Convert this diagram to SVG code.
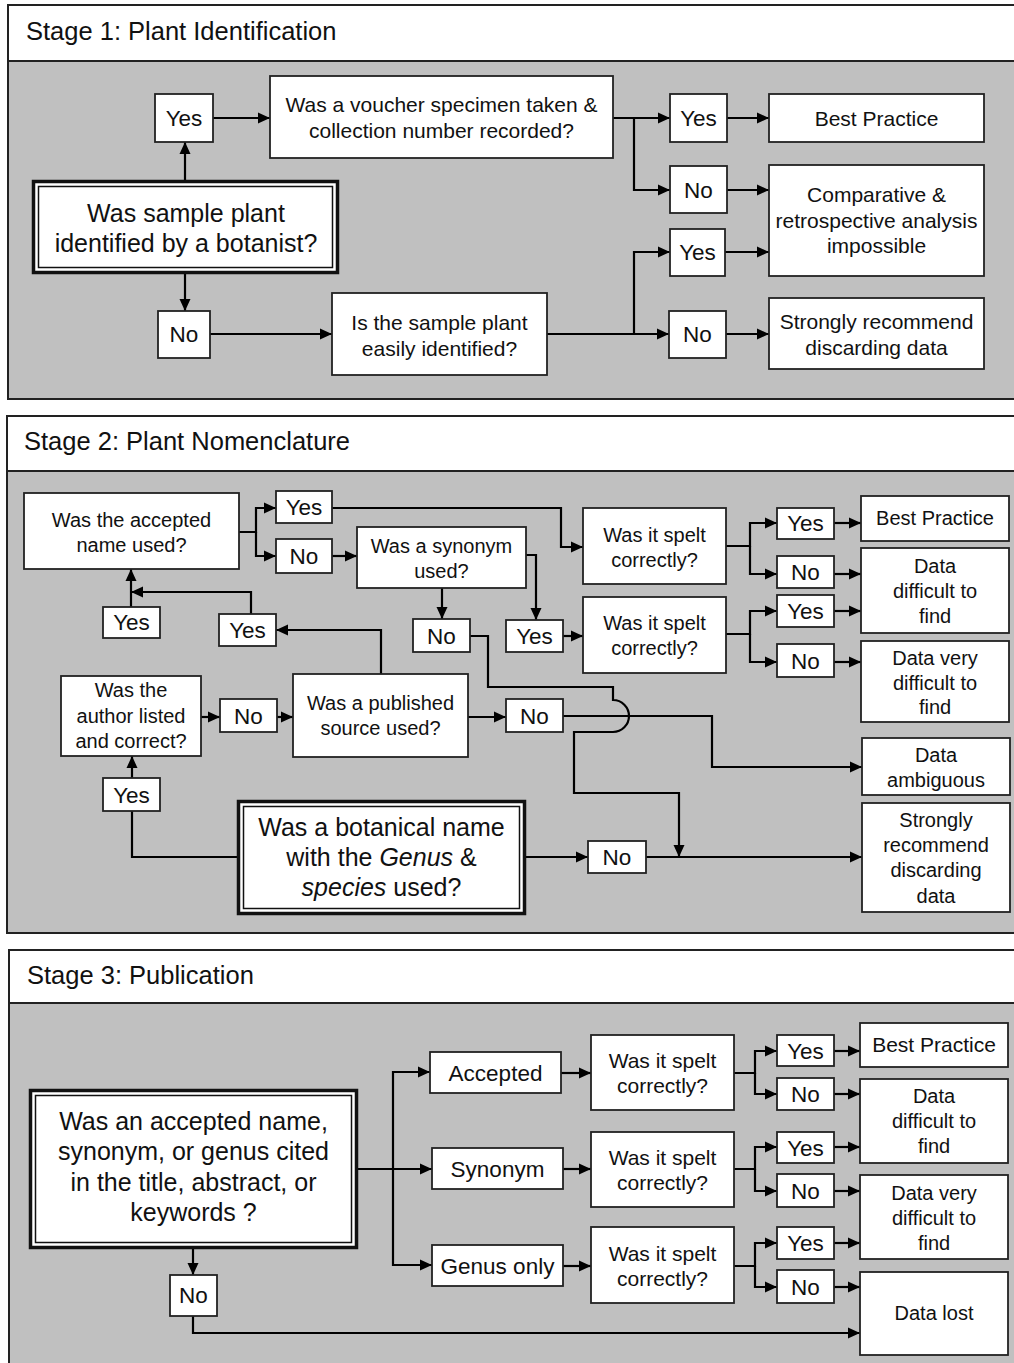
<svg xmlns="http://www.w3.org/2000/svg" width="1014" height="1363" viewBox="0 0 1014 1363">
<defs>
<marker id="ah" markerUnits="userSpaceOnUse" markerWidth="13" markerHeight="12" refX="12" refY="6" orient="auto">
<path d="M0,0.5 L12,6 L0,11.5 z" fill="#000"/>
</marker>
<style>
.hdr{fill:#fff;stroke:#222;stroke-width:2}
.body{fill:#c0c0c0;stroke:#222;stroke-width:2}
.box{fill:#fff;stroke:#222;stroke-width:1.8}
.outer{fill:#fff;stroke:#111;stroke-width:3.5}
.inner{fill:none;stroke:#111;stroke-width:1.5}
text{font-family:"Liberation Sans",Arial,sans-serif;fill:#111;text-anchor:middle}
.t{font-size:21px}
.t2{font-size:20px}
.yn{font-size:22.5px}
.big{font-size:25px}
.title{font-size:25.5px;text-anchor:start}
.c path{fill:none;stroke:#000;stroke-width:2.2}
.c .a{marker-end:url(#ah)}
</style>
</defs>

<g id="panels">
<rect class="hdr" x="8" y="5" width="1020" height="56"/>
<rect class="body" x="8" y="61" width="1020" height="338"/>
<text class="title" x="26" y="40">Stage 1: Plant Identification</text>
<rect class="hdr" x="7" y="416" width="1020" height="55"/>
<rect class="body" x="7" y="471" width="1020" height="462"/>
<text class="title" x="24" y="450">Stage 2: Plant Nomenclature</text>
<rect class="hdr" x="9" y="950" width="1020" height="53"/>
<rect class="body" x="9" y="1003" width="1020" height="370"/>
<text class="title" x="27" y="984">Stage 3: Publication</text>
</g>

<g id="connectors" class="c">
<!-- Stage 1 -->
<path class="a" d="M185,180 V142"/>
<path class="a" d="M213,118 H270"/>
<path class="a" d="M185,274 V311"/>
<path class="a" d="M210,334 H332"/>
<path class="a" d="M613,118 H670"/>
<path class="a" d="M634,118 V190 H670"/>
<path class="a" d="M547,334 H669"/>
<path class="a" d="M634,334 V252 H670"/>
<path class="a" d="M727,118 H769"/>
<path class="a" d="M727,190 H769"/>
<path class="a" d="M725,252 H769"/>
<path class="a" d="M726,334 H769"/>
<!-- Stage 2 -->
<path class="a" d="M239,532 H256 V508 H276"/>
<path class="a" d="M256,532 V556 H276"/>
<path class="a" d="M332,556 H357"/>
<path class="a" d="M332,508 H561 V547 H583"/>
<path class="a" d="M526,555 H536 V620"/>
<path class="a" d="M442,588 V619"/>
<path class="a" d="M563,636 H583"/>
<path class="a" d="M726,546 H750 V523 H777"/>
<path class="a" d="M750,546 V574 H777"/>
<path class="a" d="M834,523 H861"/>
<path class="a" d="M834,574 H861"/>
<path class="a" d="M726,634 H750 V611 H777"/>
<path class="a" d="M750,634 V662 H777"/>
<path class="a" d="M834,611 H861"/>
<path class="a" d="M834,662 H861"/>
<path class="a" d="M131,607 V569"/>
<path class="a" d="M251,614 V592 H131"/>
<path class="a" d="M381,674 V630 H276"/>
<path class="a" d="M201,717 H220"/>
<path class="a" d="M277,717 H293"/>
<path class="a" d="M468,717 H506"/>
<path class="a" d="M132,778 V756"/>
<path d="M237,857 H132 V811"/>
<path class="a" d="M526,857 H588"/>
<path class="a" d="M646,857 H862"/>
<path class="a" d="M563,716 H712 V767 H862"/>
<path class="a" d="M470,636 H488 V687 H613 V700 A16,16 0 0 1 613,732 H574 V793 H679 V857"/>
<!-- Stage 3 -->
<path class="a" d="M358,1169 H432"/>
<path class="a" d="M393,1169 V1072 H430"/>
<path class="a" d="M393,1169 V1265 H432"/>
<path class="a" d="M561,1073 H591"/>
<path class="a" d="M563,1169 H591"/>
<path class="a" d="M563,1266 H591"/>
<path class="a" d="M734,1073 H755 V1051 H777"/>
<path class="a" d="M755,1073 V1094 H777"/>
<path class="a" d="M734,1169 H755 V1147 H777"/>
<path class="a" d="M755,1169 V1191 H777"/>
<path class="a" d="M734,1266 H755 V1243 H777"/>
<path class="a" d="M755,1266 V1287 H777"/>
<path class="a" d="M834,1051 H860"/>
<path class="a" d="M834,1094 H860"/>
<path class="a" d="M834,1147 H860"/>
<path class="a" d="M834,1191 H860"/>
<path class="a" d="M834,1243 H860"/>
<path class="a" d="M834,1287 H860"/>
<path class="a" d="M193,1249 V1275"/>
<path class="a" d="M193,1316 V1333 H860"/>
</g>

<!-- Stage 1 nodes -->
<g id="s1-yes"><rect class="box" x="155" y="94" width="58" height="48"/><text class="yn" x="184" y="126">Yes</text></g>
<g id="s1-main"><rect class="outer" x="33.5" y="181.5" width="304" height="91"/><rect class="inner" x="38.5" y="186.5" width="294" height="81"/><text class="big" x="186" y="222">Was sample plant</text><text class="big" x="186" y="252">identified by a botanist?</text></g>
<g id="s1-no"><rect class="box" x="158" y="311" width="52" height="47"/><text class="yn" x="184" y="342">No</text></g>
<g id="s1-voucher"><rect class="box" x="270" y="76" width="343" height="82"/><text class="t" x="441.5" y="112">Was a voucher specimen taken &amp;</text><text class="t" x="441.5" y="138">collection number recorded?</text></g>
<g id="s1-easy"><rect class="box" x="332" y="293" width="215" height="82"/><text class="t" x="439.5" y="330">Is the sample plant</text><text class="t" x="439.5" y="356">easily identified?</text></g>
<g id="s1-yes-a"><rect class="box" x="670" y="94" width="57" height="48"/><text class="yn" x="698.5" y="126">Yes</text></g>
<g id="s1-no-a"><rect class="box" x="670" y="166" width="57" height="47"/><text class="yn" x="698.5" y="198">No</text></g>
<g id="s1-yes-b"><rect class="box" x="670" y="229" width="55" height="47"/><text class="yn" x="697.5" y="260">Yes</text></g>
<g id="s1-no-b"><rect class="box" x="669" y="311" width="57" height="47"/><text class="yn" x="697.5" y="342">No</text></g>
<g id="s1-best"><rect class="box" x="769" y="94" width="215" height="48"/><text class="t" x="876.5" y="126">Best Practice</text></g>
<g id="s1-comp"><rect class="box" x="769" y="165" width="215" height="111"/><text class="t" x="876.5" y="202">Comparative &amp;</text><text class="t" x="876.5" y="228">retrospective analysis</text><text class="t" x="876.5" y="253">impossible</text></g>
<g id="s1-discard"><rect class="box" x="769" y="298" width="215" height="71"/><text class="t" x="876.5" y="329">Strongly recommend</text><text class="t" x="876.5" y="355">discarding data</text></g>

<!-- Stage 2 nodes -->
<g id="s2-accepted"><rect class="box" x="24" y="493" width="215" height="76"/><text class="t2" x="131.5" y="527">Was the accepted</text><text class="t2" x="131.5" y="552">name used?</text></g>
<g id="s2-yes-a"><rect class="box" x="276" y="491" width="56" height="32"/><text class="yn" x="304" y="515">Yes</text></g>
<g id="s2-no-a"><rect class="box" x="276" y="539" width="56" height="34"/><text class="yn" x="304" y="564">No</text></g>
<g id="s2-synonym"><rect class="box" x="357" y="527" width="169" height="61"/><text class="t2" x="441.5" y="553">Was a synonym</text><text class="t2" x="441.5" y="578">used?</text></g>
<g id="s2-no-syn"><rect class="box" x="413" y="619" width="57" height="33"/><text class="yn" x="441.5" y="644">No</text></g>
<g id="s2-yes-syn"><rect class="box" x="506" y="620" width="57" height="32"/><text class="yn" x="534.5" y="644">Yes</text></g>
<g id="s2-yes-left"><rect class="box" x="103" y="607" width="57" height="31"/><text class="yn" x="131.5" y="630">Yes</text></g>
<g id="s2-yes-mid"><rect class="box" x="219" y="614" width="57" height="32"/><text class="yn" x="247.5" y="638">Yes</text></g>
<g id="s2-author"><rect class="box" x="61" y="676" width="140" height="80"/><text class="t2" x="131" y="697">Was the</text><text class="t2" x="131" y="723">author listed</text><text class="t2" x="131" y="748">and correct?</text></g>
<g id="s2-no-auth"><rect class="box" x="220" y="699" width="57" height="33"/><text class="yn" x="248.5" y="724">No</text></g>
<g id="s2-published"><rect class="box" x="293" y="674" width="175" height="83"/><text class="t2" x="380.5" y="710">Was a published</text><text class="t2" x="380.5" y="735">source used?</text></g>
<g id="s2-no-pub"><rect class="box" x="506" y="699" width="57" height="33"/><text class="yn" x="534.5" y="724">No</text></g>
<g id="s2-yes-bot"><rect class="box" x="103" y="778" width="57" height="33"/><text class="yn" x="131.5" y="803">Yes</text></g>
<g id="s2-botanical"><rect class="outer" x="238.5" y="801.5" width="286" height="112"/><rect class="inner" x="243.5" y="806.5" width="276" height="102"/><text class="big" x="381.5" y="836">Was a botanical name</text><text class="big" x="381.5" y="866">with the <tspan font-style="italic">Genus</tspan> &amp;</text><text class="big" x="381.5" y="896"><tspan font-style="italic">species</tspan> used?</text></g>
<g id="s2-no-bot"><rect class="box" x="588" y="841" width="58" height="32"/><text class="yn" x="617" y="865">No</text></g>
<g id="s2-spelt1"><rect class="box" x="583" y="508" width="143" height="76"/><text class="t2" x="654.5" y="542">Was it spelt</text><text class="t2" x="654.5" y="567">correctly?</text></g>
<g id="s2-spelt2"><rect class="box" x="583" y="597" width="143" height="76"/><text class="t2" x="654.5" y="630">Was it spelt</text><text class="t2" x="654.5" y="655">correctly?</text></g>
<g id="s2-yes-s1"><rect class="box" x="777" y="508" width="57" height="31"/><text class="yn" x="805.5" y="531">Yes</text></g>
<g id="s2-no-s1"><rect class="box" x="777" y="556" width="57" height="32"/><text class="yn" x="805.5" y="580">No</text></g>
<g id="s2-yes-s2"><rect class="box" x="777" y="595" width="57" height="32"/><text class="yn" x="805.5" y="619">Yes</text></g>
<g id="s2-no-s2"><rect class="box" x="777" y="644" width="57" height="33"/><text class="yn" x="805.5" y="669">No</text></g>
<g id="s2-best"><rect class="box" x="861" y="496" width="148" height="45"/><text class="t2" x="935" y="525">Best Practice</text></g>
<g id="s2-diff"><rect class="box" x="861" y="548" width="148" height="85"/><text class="t2" x="935" y="573">Data</text><text class="t2" x="935" y="598">difficult to</text><text class="t2" x="935" y="623">find</text></g>
<g id="s2-verydiff"><rect class="box" x="861" y="641" width="148" height="81"/><text class="t2" x="935" y="665">Data very</text><text class="t2" x="935" y="690">difficult to</text><text class="t2" x="935" y="714">find</text></g>
<g id="s2-ambig"><rect class="box" x="862" y="738" width="148" height="57"/><text class="t2" x="936" y="762">Data</text><text class="t2" x="936" y="787">ambiguous</text></g>
<g id="s2-discard"><rect class="box" x="862" y="803" width="148" height="109"/><text class="t2" x="936" y="827">Strongly</text><text class="t2" x="936" y="852">recommend</text><text class="t2" x="936" y="877">discarding</text><text class="t2" x="936" y="903">data</text></g>

<!-- Stage 3 nodes -->
<g id="s3-main"><rect class="outer" x="30.5" y="1090.5" width="326" height="157"/><rect class="inner" x="35.5" y="1095.5" width="316" height="147"/><text class="big" x="193.5" y="1130">Was an accepted name,</text><text class="big" x="193.5" y="1160">synonym, or genus cited</text><text class="big" x="193.5" y="1191">in the title, abstract, or</text><text class="big" x="193.5" y="1221">keywords ?</text></g>
<g id="s3-accepted"><rect class="box" x="430" y="1052" width="131" height="41"/><text class="yn" x="495.5" y="1081">Accepted</text></g>
<g id="s3-synonym"><rect class="box" x="432" y="1148" width="131" height="41"/><text class="yn" x="497.5" y="1177">Synonym</text></g>
<g id="s3-genus"><rect class="box" x="432" y="1245" width="131" height="41"/><text class="yn" x="497.5" y="1274">Genus only</text></g>
<g id="s3-spelt-a"><rect class="box" x="591" y="1035" width="143" height="75"/><text class="t" x="662.5" y="1068">Was it spelt</text><text class="t" x="662.5" y="1093">correctly?</text></g>
<g id="s3-spelt-s"><rect class="box" x="591" y="1132" width="143" height="75"/><text class="t" x="662.5" y="1165">Was it spelt</text><text class="t" x="662.5" y="1190">correctly?</text></g>
<g id="s3-spelt-g"><rect class="box" x="591" y="1227" width="143" height="76"/><text class="t" x="662.5" y="1261">Was it spelt</text><text class="t" x="662.5" y="1286">correctly?</text></g>
<g id="s3-yes-a"><rect class="box" x="777" y="1035" width="57" height="31"/><text class="yn" x="805.5" y="1059">Yes</text></g>
<g id="s3-no-a"><rect class="box" x="777" y="1078" width="57" height="32"/><text class="yn" x="805.5" y="1102">No</text></g>
<g id="s3-yes-s"><rect class="box" x="777" y="1132" width="57" height="31"/><text class="yn" x="805.5" y="1156">Yes</text></g>
<g id="s3-no-s"><rect class="box" x="777" y="1174" width="57" height="33"/><text class="yn" x="805.5" y="1199">No</text></g>
<g id="s3-yes-g"><rect class="box" x="777" y="1227" width="57" height="32"/><text class="yn" x="805.5" y="1251">Yes</text></g>
<g id="s3-no-g"><rect class="box" x="777" y="1270" width="57" height="33"/><text class="yn" x="805.5" y="1295">No</text></g>
<g id="s3-best"><rect class="box" x="860" y="1023" width="148" height="44"/><text class="t" x="934" y="1052">Best Practice</text></g>
<g id="s3-diff"><rect class="box" x="860" y="1079" width="148" height="84"/><text class="t2" x="934" y="1103">Data</text><text class="t2" x="934" y="1128">difficult to</text><text class="t2" x="934" y="1153">find</text></g>
<g id="s3-verydiff"><rect class="box" x="860" y="1175" width="148" height="84"/><text class="t2" x="934" y="1200">Data very</text><text class="t2" x="934" y="1225">difficult to</text><text class="t2" x="934" y="1250">find</text></g>
<g id="s3-lost"><rect class="box" x="860" y="1272" width="148" height="83"/><text class="t2" x="934" y="1320">Data lost</text></g>
<g id="s3-no"><rect class="box" x="170" y="1275" width="47" height="41"/><text class="yn" x="193.5" y="1303">No</text></g>
</svg>
